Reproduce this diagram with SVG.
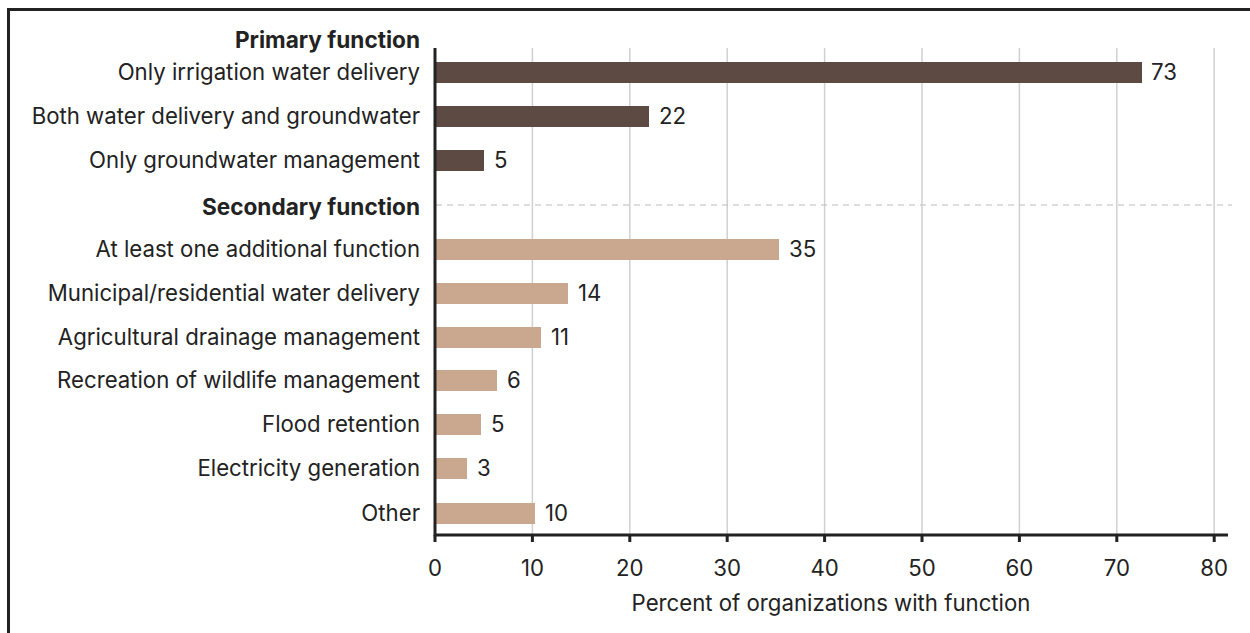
<svg xmlns="http://www.w3.org/2000/svg" width="1250" height="633" viewBox="0 0 1250 633">
<style>
text{font-family:Inter,"Liberation Sans",sans-serif;fill:#222;font-size:22.2px}
.lab{text-anchor:end}
.hd{text-anchor:end;font-weight:bold;font-size:22.6px}
.val{text-anchor:start}
.tick{text-anchor:middle}
.grid{stroke:#d0d0d0;stroke-width:1.5}
.dk{fill:#5c4a43}
.lt{fill:#caa88f}
.ax{stroke:#222;stroke-width:3;fill:none}
</style>
<rect x="0" y="0" width="1250" height="633" fill="#fff"/>
<path d="M8.5 640 V9.5 H1260" fill="none" stroke="#222" stroke-width="3"/>
<g id="grid">
<line class="grid" x1="532.4" y1="48" x2="532.4" y2="535"/>
<line class="grid" x1="629.8" y1="48" x2="629.8" y2="535"/>
<line class="grid" x1="727.2" y1="48" x2="727.2" y2="535"/>
<line class="grid" x1="824.6" y1="48" x2="824.6" y2="535"/>
<line class="grid" x1="922" y1="48" x2="922" y2="535"/>
<line class="grid" x1="1019.4" y1="48" x2="1019.4" y2="535"/>
<line class="grid" x1="1116.8" y1="48" x2="1116.8" y2="535"/>
<line class="grid" x1="1214.2" y1="48" x2="1214.2" y2="535"/>
</g>
<line id="separator" x1="436" y1="205" x2="1232" y2="205" stroke="#bbb" stroke-width="1" stroke-dasharray="6 5"/>
<g id="headings">
<text class="hd" x="420" y="48">Primary function</text>
<text class="hd" x="420" y="215">Secondary function</text>
</g>
<g id="bars">
<g id="row1"><text class="lab" x="420" y="80">Only irrigation water delivery</text><rect class="dk" x="436" y="62" width="706" height="21"/><text class="val" x="1151" y="80">73</text></g>
<g id="row2"><text class="lab" x="420" y="124">Both water delivery and groundwater</text><rect class="dk" x="436" y="106" width="213" height="21"/><text class="val" x="659" y="124">22</text></g>
<g id="row3"><text class="lab" x="420" y="168">Only groundwater management</text><rect class="dk" x="436" y="150" width="48" height="21"/><text class="val" x="494" y="168">5</text></g>
<g id="row4"><text class="lab" x="420" y="257">At least one additional function</text><rect class="lt" x="436" y="239" width="343" height="21"/><text class="val" x="789" y="257">35</text></g>
<g id="row5"><text class="lab" x="420" y="301">Municipal/residential water delivery</text><rect class="lt" x="436" y="283" width="132" height="21"/><text class="val" x="578" y="301">14</text></g>
<g id="row6"><text class="lab" x="420" y="345">Agricultural drainage management</text><rect class="lt" x="436" y="327" width="105" height="21"/><text class="val" x="551" y="345">11</text></g>
<g id="row7"><text class="lab" x="420" y="388">Recreation of wildlife management</text><rect class="lt" x="436" y="370" width="61" height="21"/><text class="val" x="507" y="388">6</text></g>
<g id="row8"><text class="lab" x="420" y="432">Flood retention</text><rect class="lt" x="436" y="414" width="45" height="21"/><text class="val" x="491" y="432">5</text></g>
<g id="row9"><text class="lab" x="420" y="476">Electricity generation</text><rect class="lt" x="436" y="458" width="31" height="21"/><text class="val" x="477" y="476">3</text></g>
<g id="row10"><text class="lab" x="420" y="521">Other</text><rect class="lt" x="436" y="503" width="99" height="21"/><text class="val" x="545" y="521">10</text></g>
</g>
<g id="axes">
<path class="ax" d="M435 48 V535 H1228"/>
<path class="ax" d="M435 535 v7 M532.4 535 v7 M629.8 535 v7 M727.2 535 v7 M824.6 535 v7 M922 535 v7 M1019.4 535 v7 M1116.8 535 v7 M1214.2 535 v7"/>
</g>
<g id="ticklabels">
<text class="tick" x="435" y="576">0</text>
<text class="tick" x="532.4" y="576">10</text>
<text class="tick" x="629.8" y="576">20</text>
<text class="tick" x="727.2" y="576">30</text>
<text class="tick" x="824.6" y="576">40</text>
<text class="tick" x="922" y="576">50</text>
<text class="tick" x="1019.4" y="576">60</text>
<text class="tick" x="1116.8" y="576">70</text>
<text class="tick" x="1214.2" y="576">80</text>
<text class="tick" x="831" y="611">Percent of organizations with function</text>
</g>
</svg>
